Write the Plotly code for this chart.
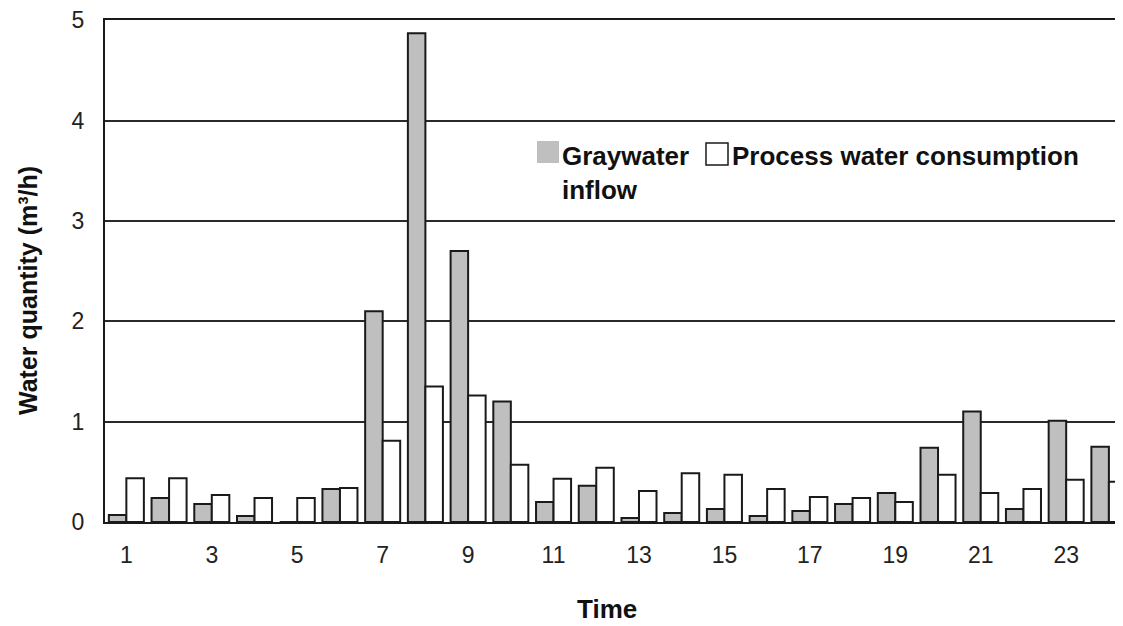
import plotly.graph_objects as go

hours = list(range(1, 25))
graywater_inflow = [0.07, 0.24, 0.18, 0.06, 0.0, 0.33, 2.10, 4.87, 2.70, 1.20, 0.20, 0.36,
                    0.04, 0.09, 0.13, 0.06, 0.11, 0.18, 0.29, 0.74, 1.10, 0.13, 1.01, 0.75]
process_water = [0.435, 0.435, 0.27, 0.24, 0.24, 0.34, 0.81, 1.35, 1.26, 0.57, 0.43, 0.54,
                 0.31, 0.485, 0.47, 0.33, 0.25, 0.24, 0.20, 0.47, 0.29, 0.33, 0.42, 0.40]
tick_values = [1, 3, 5, 7, 9, 11, 13, 15, 17, 19, 21, 23]
tick_labels = [str(v) for v in tick_values]
y_ticks = [0, 1, 2, 3, 4, 5]

OFF = 8  # page body margin
W, H = 1123 - OFF, 626 - OFF
plot_left, plot_top, plot_bottom = 105, 20, 522  # in reference pixels
L = plot_left - OFF
T = plot_top - OFF
B = H - (plot_bottom - OFF)
R = 0
pw, ph = W - L - R, H - T - B

def px_x(x):
    return (x - OFF - L) / pw

def px_y(y):
    return (H - B - (y - OFF)) / ph

FONT = "Liberation Sans, Arial, sans-serif"
GRAY = "#bfbfbf"

fig = go.Figure()
fig.add_trace(go.Bar(x=hours, y=graywater_inflow, name="Graywater inflow",
                     marker=dict(color=GRAY, line=dict(color="#1a1a1a", width=2)),
                     showlegend=False))
fig.add_trace(go.Bar(x=hours, y=process_water, name="Process water consumption",
                     marker=dict(color="white", line=dict(color="#1a1a1a", width=2)),
                     showlegend=False))

# manual legend
fig.add_shape(type="rect", xref="paper", yref="paper",
              x0=px_x(537), x1=px_x(559), y0=px_y(163), y1=px_y(141),
              fillcolor=GRAY, line=dict(width=0))
fig.add_shape(type="rect", xref="paper", yref="paper",
              x0=px_x(706), x1=px_x(728), y0=px_y(165), y1=px_y(143),
              fillcolor="white", line=dict(color="#1a1a1a", width=1.5))
fig.add_annotation(x=px_x(560), y=px_y(139), xref="paper", yref="paper",
                   text="<b>Graywater<br>inflow</b>", showarrow=False,
                   xanchor="left", yanchor="top", align="left",
                   font=dict(family=FONT, size=26, color="#111"))
fig.add_annotation(x=px_x(730), y=px_y(139), xref="paper", yref="paper",
                   text="<b>Process water consumption</b>", showarrow=False,
                   xanchor="left", yanchor="top", align="left",
                   font=dict(family=FONT, size=26, color="#111"))

# axis titles
fig.add_annotation(x=px_x(607), y=px_y(609), xref="paper", yref="paper",
                   text="<b>Time</b>", showarrow=False,
                   xanchor="center", yanchor="middle",
                   font=dict(family=FONT, size=26, color="#111"))
fig.add_annotation(x=px_x(28), y=px_y(291), xref="paper", yref="paper",
                   text="<b>Water quantity (m³/h)</b>", showarrow=False, textangle=-90,
                   xanchor="center", yanchor="middle",
                   font=dict(family=FONT, size=25, color="#111"))

fig.update_layout(
    width=W, height=H,
    margin=dict(l=L, r=R, t=T, b=B, pad=0),
    paper_bgcolor="white", plot_bgcolor="white",
    barmode="group", bargap=0.18, bargroupgap=0,
    font=dict(family=FONT, size=23, color="#222"),
    showlegend=False,
)
fig.update_xaxes(range=[0.5, 24.33], tickmode="array", tickvals=tick_values, ticktext=tick_labels,
                 showgrid=False, showline=True, linecolor="#1a1a1a", linewidth=2, mirror=True,
                 ticks="", ticklabelstandoff=11, zeroline=False,
                 tickfont=dict(family=FONT, size=23, color="#222"))
fig.update_yaxes(range=[0, 5.002], tickmode="array", tickvals=y_ticks,
                 showgrid=True, gridcolor="#2a2a2a", gridwidth=1.5,
                 showline=True, linecolor="#1a1a1a", linewidth=2,
                 ticks="", ticklabelstandoff=14, zeroline=False,
                 ticklabeloverflow="allow",
                 tickfont=dict(family=FONT, size=23, color="#222"))

fig.write_html("out.html")
